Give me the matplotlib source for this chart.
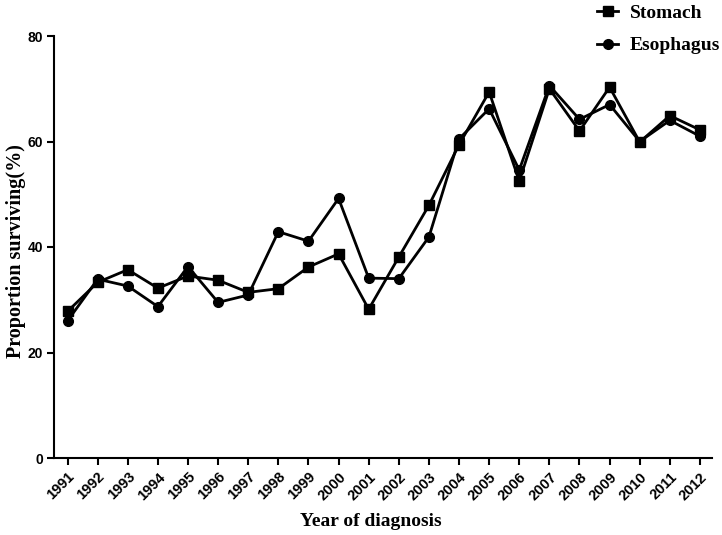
import matplotlib.pyplot as plt

years = list(range(1991, 2013))
stomach = [27.8, 33.3, 35.7, 32.2, 34.5, 33.7, 31.4, 32.1, 36.2, 38.7, 28.2,
           38.1, 47.9, 59.4, 69.4, 52.5, 70.0, 62.0, 70.3, 59.9, 64.9, 62.2]
esophagus = [26.0, 33.9, 32.6, 28.7, 36.3, 29.5, 30.9, 42.9, 41.1, 49.2, 34.1,
             34.0, 41.9, 60.5, 66.2, 54.6, 70.6, 64.2, 67.0, 60.0, 64.0, 61.0]
yticks = [0, 20, 40, 60, 80]

fig = plt.figure(figsize=(7.22, 5.35), dpi=100)
ax = fig.add_axes([54/722, 1-458/535, 658/722, 422/535])

ax.plot(years, stomach, color="black", lw=2, marker="s", ms=7, label="Stomach")
ax.plot(years, esophagus, color="black", lw=2, marker="o", ms=7, label="Esophagus")

ax.set_xlim(1990.55, 2012.4)
ax.set_ylim(0, 80)
ax.set_xticks(years)
ax.set_xticklabels([str(y) for y in years], rotation=45, ha="right",
                   rotation_mode="anchor", fontsize=10.5, fontweight="bold",
                   family="Liberation Sans")
ax.set_yticks(yticks)
ax.set_yticklabels([str(v) for v in yticks], fontsize=10, fontweight="bold",
                   family="Liberation Sans")
ax.tick_params(direction="out", length=5, width=1.5)
ax.tick_params(axis="y", pad=3)
for s in ["top", "right"]:
    ax.spines[s].set_visible(False)
for s in ["left", "bottom"]:
    ax.spines[s].set_linewidth(1.5)

ax.set_xlabel("Year of diagnosis", fontsize=14, fontweight="bold",
              family="Liberation Serif", labelpad=6)
ax.xaxis.set_label_coords(0.482, -0.13)
ax.set_ylabel("Proportion surviving(%)", fontsize=14.5, fontweight="bold",
              family="Liberation Serif", va="center")
ax.yaxis.set_label_coords(-0.058, 0.49)

fig.legend(loc="upper right", bbox_to_anchor=(1.022, 1.024), frameon=False,
           handlelength=1.1, handletextpad=0.6, labelspacing=0.75,
           prop={"family": "Liberation Serif", "weight": "bold", "size": 14})

fig.savefig("out.png", dpi=100)
